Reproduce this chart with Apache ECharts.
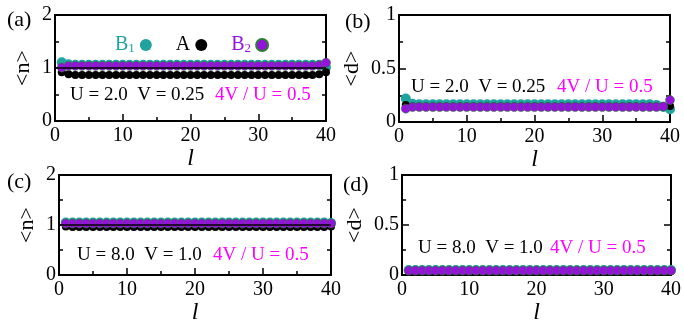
<!DOCTYPE html>
<html>
<head>
<meta charset="utf-8">
<script src="https://cdn.jsdelivr.net/npm/echarts@6/dist/echarts.min.js"></script>
<style>
  html, body { margin: 0; padding: 0; background: #fff; }
  #chart { width: 684px; height: 326px; }
</style>
</head>
<body>
<div id="chart"></div>
<script>
// site index l
var sites = [1,2,3,4,5,6,7,8,9,10,11,12,13,14,15,16,17,18,19,20,
             21,22,23,24,25,26,27,28,29,30,31,32,33,34,35,36,37,38,39,40];

// (a) <n>, U = 2.0, V = 0.25
var nB1_a = [1.11,1.07,1.06,1.06,1.06,1.06,1.06,1.06,1.06,1.06,1.06,1.06,1.06,1.06,1.06,1.06,1.06,1.06,1.06,1.06,
             1.06,1.06,1.06,1.06,1.06,1.06,1.06,1.06,1.06,1.06,1.06,1.06,1.06,1.06,1.06,1.06,1.06,1.06,1.06,1.01];
var nA_a  = [0.92,0.88,0.87,0.87,0.87,0.87,0.87,0.87,0.87,0.87,0.87,0.87,0.87,0.87,0.87,0.87,0.87,0.87,0.87,0.87,
             0.87,0.87,0.87,0.87,0.87,0.87,0.87,0.87,0.87,0.87,0.87,0.87,0.87,0.87,0.87,0.87,0.87,0.87,0.88,0.92];
var nB2_a = [1.01,1.04,1.04,1.04,1.04,1.04,1.04,1.04,1.04,1.04,1.04,1.04,1.04,1.04,1.04,1.04,1.04,1.04,1.04,1.04,
             1.04,1.04,1.04,1.04,1.04,1.04,1.04,1.04,1.04,1.04,1.04,1.04,1.04,1.04,1.04,1.04,1.04,1.04,1.05,1.10];

// (b) <d>, U = 2.0, V = 0.25
var dB1_b = [0.22,0.17,0.165,0.165,0.165,0.165,0.165,0.165,0.165,0.165,0.165,0.165,0.165,0.165,0.165,0.165,0.165,0.165,0.165,0.165,
             0.165,0.165,0.165,0.165,0.165,0.165,0.165,0.165,0.165,0.165,0.165,0.165,0.165,0.165,0.165,0.165,0.165,0.16,0.14,0.12];
var dA_b  = [0.16,0.145,0.145,0.145,0.145,0.145,0.145,0.145,0.145,0.145,0.145,0.145,0.145,0.145,0.145,0.145,0.145,0.145,0.145,0.145,
             0.145,0.145,0.145,0.145,0.145,0.145,0.145,0.145,0.145,0.145,0.145,0.145,0.145,0.145,0.145,0.145,0.145,0.145,0.145,0.15];
var dB2_b = [0.125,0.14,0.14,0.14,0.14,0.14,0.14,0.14,0.14,0.14,0.14,0.14,0.14,0.14,0.14,0.14,0.14,0.14,0.14,0.14,
             0.14,0.14,0.14,0.14,0.14,0.14,0.14,0.14,0.14,0.14,0.14,0.14,0.14,0.14,0.14,0.14,0.14,0.14,0.145,0.205];

// (c) <n>, U = 8.0, V = 1.0
var nB1_c = [1.05,1.05,1.05,1.05,1.05,1.05,1.05,1.05,1.05,1.05,1.05,1.05,1.05,1.05,1.05,1.05,1.05,1.05,1.05,1.05,
             1.05,1.05,1.05,1.05,1.05,1.05,1.05,1.05,1.05,1.05,1.05,1.05,1.05,1.05,1.05,1.05,1.05,1.05,1.05,1.04];
var nA_c  = [0.97,0.96,0.96,0.96,0.96,0.96,0.96,0.96,0.96,0.96,0.96,0.96,0.96,0.96,0.96,0.96,0.96,0.96,0.96,0.96,
             0.96,0.96,0.96,0.96,0.96,0.96,0.96,0.96,0.96,0.96,0.96,0.96,0.96,0.96,0.96,0.96,0.96,0.96,0.96,0.97];
var nB2_c = [1.03,1.03,1.03,1.03,1.03,1.03,1.03,1.03,1.03,1.03,1.03,1.03,1.03,1.03,1.03,1.03,1.03,1.03,1.03,1.03,
             1.03,1.03,1.03,1.03,1.03,1.03,1.03,1.03,1.03,1.03,1.03,1.03,1.03,1.03,1.03,1.03,1.03,1.03,1.03,1.03];

// (d) <d>, U = 8.0, V = 1.0
var dB1_d = [0.05,0.05,0.05,0.05,0.05,0.05,0.05,0.05,0.05,0.05,0.05,0.05,0.05,0.05,0.05,0.05,0.05,0.05,0.05,0.05,
             0.05,0.05,0.05,0.05,0.05,0.05,0.05,0.05,0.05,0.05,0.05,0.05,0.05,0.05,0.05,0.05,0.05,0.05,0.05,0.05];
var dA_d  = [0.04,0.04,0.04,0.04,0.04,0.04,0.04,0.04,0.04,0.04,0.04,0.04,0.04,0.04,0.04,0.04,0.04,0.04,0.04,0.04,
             0.04,0.04,0.04,0.04,0.04,0.04,0.04,0.04,0.04,0.04,0.04,0.04,0.04,0.04,0.04,0.04,0.04,0.04,0.04,0.04];
var dB2_d = [0.045,0.045,0.045,0.045,0.045,0.045,0.045,0.045,0.045,0.045,0.045,0.045,0.045,0.045,0.045,0.045,0.045,0.045,0.045,0.045,
             0.045,0.045,0.045,0.045,0.045,0.045,0.045,0.045,0.045,0.045,0.045,0.045,0.045,0.045,0.045,0.045,0.045,0.045,0.045,0.045];

var panelTags = ["(a)", "(b)", "(c)", "(d)"];
var yNames = ["<n>", "<d>", "<n>", "<d>"];
var paramText = ["U = 2.0  V = 0.25", "U = 2.0  V = 0.25", "U = 8.0  V = 1.0", "U = 8.0  V = 1.0"];
var ratioText = "4V / U = 0.5";

var TEAL = "#20a39e";
var PURPLE = "#9512dc";
var MAGENTA = "#ff00ff";
var FONT = "Liberation Serif";

function pairs(vals) {
  return sites.map(function(l, i) { return [l, vals[i]]; });
}

var panels = [
  { grid: { left: 55, top: 15, width: 271, height: 106 }, yMax: 2, yInt: 1, vals: [nB1_a, nA_a, nB2_a], ref: true },
  { grid: { left: 399, top: 15, width: 271, height: 107 }, yMax: 1, yInt: 0.5, vals: [dB1_b, dA_b, dB2_b], ref: false },
  { grid: { left: 59, top: 175, width: 272, height: 106 }, yMax: 2, yInt: 1, vals: [nB1_c, nA_c, nB2_c], ref: true },
  { grid: { left: 402, top: 175, width: 271, height: 107 }, yMax: 1, yInt: 0.5, vals: [dB1_d, dA_d, dB2_d], ref: false }
];

var grids = [], xAxes = [], yAxes = [], series = [], graphics = [];
var tickStyle = { color: "#000", width: 1.5 };

panels.forEach(function(p, k) {
  grids.push(Object.assign({ show: true, borderColor: "#000", borderWidth: 2, containLabel: false }, p.grid));
  xAxes.push({
    type: "value", gridIndex: k, min: 0, max: 40, interval: 10,
    name: "l", nameLocation: "middle", nameGap: 25,
    nameTextStyle: { fontFamily: FONT, fontStyle: "italic", fontSize: 24, color: "#000" },
    axisLine: { show: true, lineStyle: { color: "#000", width: 2 } },
    axisTick: { show: true, inside: true, length: 7, lineStyle: tickStyle },
    minorTick: { show: true, splitNumber: 2, length: 4, lineStyle: tickStyle },
    axisLabel: { fontFamily: FONT, fontSize: 20, color: "#000", margin: 5 },
    splitLine: { show: false }
  });
  yAxes.push({
    type: "value", gridIndex: k, min: 0, max: p.yMax, interval: p.yInt,
    name: yNames[k], nameLocation: "middle", nameRotate: 90, nameGap: p.yMax === 2 ? 21 : 36,
    nameTextStyle: { fontFamily: FONT, fontSize: 22, color: "#000" },
    axisLine: { show: true, lineStyle: { color: "#000", width: 2 } },
    axisTick: { show: true, inside: true, length: 7, lineStyle: tickStyle },
    minorTick: { show: true, splitNumber: 2, length: 4, lineStyle: tickStyle },
    axisLabel: { fontFamily: FONT, fontSize: 20, color: "#000", margin: 3 },
    splitLine: { show: false }
  });
  // mirrored ticks on the right side
  yAxes.push({
    type: "value", gridIndex: k, min: 0, max: p.yMax, interval: p.yInt, position: "right",
    axisLine: { show: false },
    axisTick: { show: true, inside: true, length: 7, lineStyle: tickStyle },
    minorTick: { show: true, splitNumber: 2, length: 4, lineStyle: tickStyle },
    axisLabel: { show: false },
    splitLine: { show: false }
  });

  var yIdx = k * 2;
  var b1 = {
    name: "B1", type: "scatter", xAxisIndex: k, yAxisIndex: yIdx,
    symbol: "circle", symbolSize: 10,
    itemStyle: { color: TEAL, opacity: 1 },
    data: pairs(p.vals[0])
  };
  if (p.ref) {
    b1.markLine = {
      silent: true, symbol: "none", label: { show: false },
      lineStyle: { color: "#000", type: "solid", width: 1.5 },
      data: [{ yAxis: 1 }]
    };
  }
  series.push(b1);
  series.push({
    name: "A", type: "scatter", xAxisIndex: k, yAxisIndex: yIdx,
    symbol: "circle", symbolSize: 8,
    itemStyle: { color: "#000", opacity: 1 },
    data: pairs(p.vals[1])
  });
  series.push({
    name: "B2", type: "scatter", xAxisIndex: k, yAxisIndex: yIdx,
    symbol: "circle", symbolSize: 9,
    itemStyle: { color: PURPLE, borderColor: "#2e7d32", borderWidth: 0.6, opacity: 1 },
    data: pairs(p.vals[2])
  });
});

var tagPos = [[7, 20], [345, 22], [7, 182], [343, 185]];
panelTags.forEach(function(t, k) {
  graphics.push({ type: "text", x: tagPos[k][0], y: tagPos[k][1],
    style: { text: t, font: "22px " + FONT, fill: "#000", verticalAlign: "middle" } });
});

var paramPos = [[70, 95, 215], [411, 87, 557], [77, 255, 213], [418, 248, 550]];
paramText.forEach(function(t, k) {
  graphics.push({ type: "text", x: paramPos[k][0], y: paramPos[k][1],
    style: { text: t, font: "19px " + FONT, fill: "#000", verticalAlign: "middle" } });
  graphics.push({ type: "text", x: paramPos[k][2], y: paramPos[k][1],
    style: { text: ratioText, font: "19px " + FONT, fill: MAGENTA, verticalAlign: "middle" } });
});

var chart = echarts.init(document.getElementById("chart"), null, { renderer: "canvas" });
chart.setOption({
  animation: false,
  backgroundColor: "#fff",
  grid: grids,
  xAxis: xAxes,
  yAxis: yAxes,
  series: series,
  legend: {
    left: 110, top: 30, align: "right", itemGap: 24,
    itemWidth: 12, itemHeight: 12, icon: "circle",
    data: ["B1", "A", "B2"],
    formatter: function(name) {
      if (name === "B1") return "{t1|B}{s1|1}";
      if (name === "B2") return "{t2|B}{s2|2}";
      return "{a|A}";
    },
    textStyle: {
      fontFamily: FONT,
      rich: {
        t1: { fontFamily: FONT, fontSize: 20, color: TEAL },
        s1: { fontFamily: FONT, fontSize: 13, color: TEAL, padding: [8, 0, 0, 0] },
        t2: { fontFamily: FONT, fontSize: 20, color: PURPLE },
        s2: { fontFamily: FONT, fontSize: 13, color: PURPLE, padding: [8, 0, 0, 0] },
        a: { fontFamily: FONT, fontSize: 20, color: "#000" }
      }
    }
  },
  graphic: graphics
});
</script>
</body>
</html>
